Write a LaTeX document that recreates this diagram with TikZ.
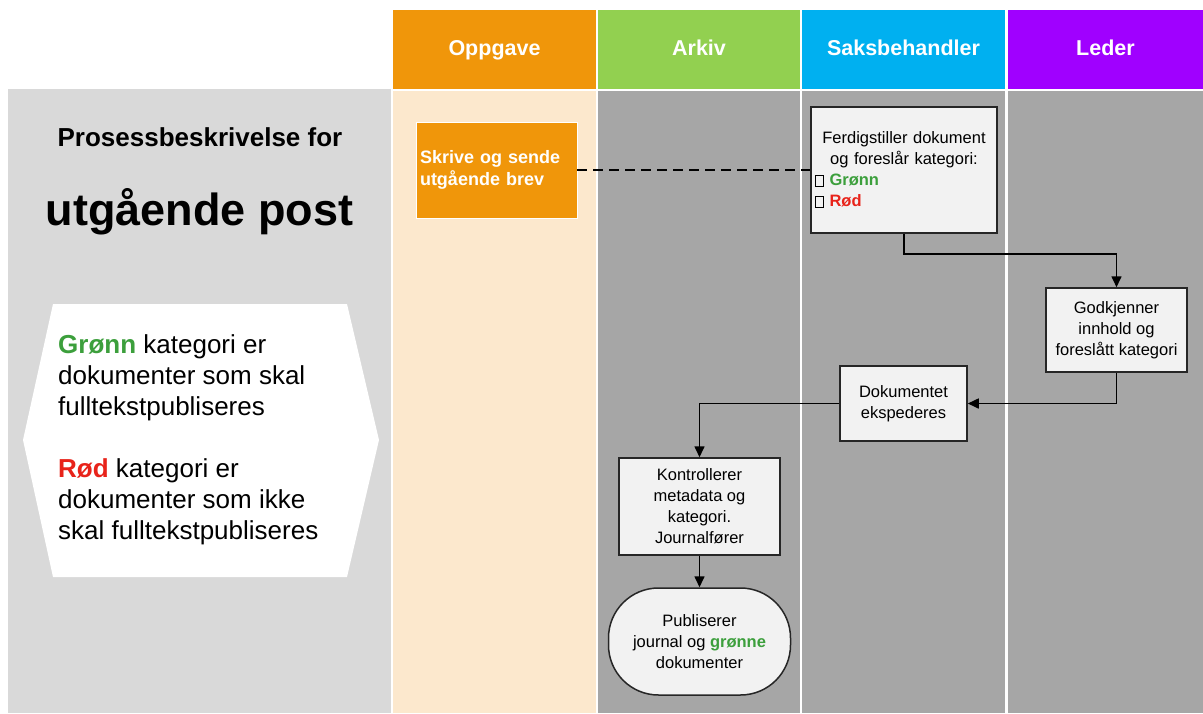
\documentclass[tikz,border=0pt]{standalone}
\usepackage{fontspec}
\setmainfont{Liberation Sans}
\usetikzlibrary{arrows.meta}

\definecolor{oppgaveFarge}{HTML}{F0960A}
\definecolor{oppgaveLys}{HTML}{FCE8CD}
\definecolor{arkivFarge}{HTML}{92D050}
\definecolor{saksFarge}{HTML}{00B0F0}
\definecolor{lederFarge}{HTML}{A000FF}
\definecolor{baneGraa}{HTML}{A6A6A6}
\definecolor{panelGraa}{HTML}{D9D9D9}
\definecolor{boksFyll}{HTML}{F2F2F2}
\definecolor{gronn}{HTML}{3C9F3C}
\definecolor{rod}{HTML}{E8231A}

% tom avkrysningsboks
\newcommand{\avkrysning}{\raisebox{-0.5pt}{\setlength{\fboxsep}{0pt}\setlength{\fboxrule}{1pt}\fbox{\rule{0pt}{10pt}\hspace{7pt}}}}

\tikzset{
	header/.style={fill=#1,
		text=white,
		font=\fontsize{21.5}{26}\selectfont\bfseries,
		text height=15.5pt,
		text depth=4.5pt,
		minimum height=79pt,
		inner sep=0pt},
	steg/.style={draw=black!85,
		line width=1.5pt,
		fill=boksFyll,
		align=center,
		font=\fontsize{16.5}{21}\selectfont,
		inner sep=0pt},
	pil/.style={line width=1.6pt, -{Triangle[length=11pt,width=10pt]}},
}

\begin{document}
\begin{tikzpicture}[x=1pt,y=-1pt]
	
	\useasboundingbox (0,0) rectangle (1203,713);
	
	% Baner
	\fill[panelGraa] (8,89) rectangle (391,713);
	\fill[oppgaveLys] (393,91) rectangle (596,713);
	\fill[baneGraa] (598,91) rectangle (800,713);
	\fill[baneGraa] (802,91) rectangle (1005,713);
	\fill[baneGraa] (1008,91) rectangle (1203,713);
	
	% Overskrifter
	\node[header=oppgaveFarge, minimum width=203pt] (hdOppgave) at (494.5,49.5) {Oppgave};
	\node[header=arkivFarge, minimum width=202pt] (hdArkiv) at (699,49.5) {Arkiv};
	\node[header=saksFarge, minimum width=203pt] (hdSaks) at (903.5,49.5) {Saksbehandler};
	\node[header=lederFarge, minimum width=195pt] (hdLeder) at (1105.5,49.5) {Leder};
	
	% Tittel
	\node[font=\fontsize{26}{30}\selectfont\bfseries] (tittel) at (200,137) {Prosessbeskrivelse for};
	\node[font=\fontsize{45}{52}\selectfont\bfseries] (tittelStor) at (199.5,212) {utgående post};
	
	% Forklaring
	\fill[white] (53,304) -- (347,304) -- (379,440) -- (347,577) -- (53,577) -- (23,440) -- cycle;
	\node[anchor=west,
	align=left,
	inner sep=0pt,
	font=\fontsize{26}{31}\selectfont] (forklaring) at (58,440)
	{\textcolor{gronn}{\textbf{Grønn}} kategori er\\
		dokumenter som skal\\
		fulltekstpubliseres\\
		\mbox{}\\
		\textcolor{rod}{\textbf{Rød}} kategori er\\
		dokumenter som ikke\\
		skal fulltekstpubliseres};
	
	% Steg
	\node[draw=white,
	line width=0.8pt,
	fill=oppgaveFarge,
	text=white,
	font=\fontsize{18}{22}\selectfont\bfseries,
	align=left,
	text width=153pt,
	inner sep=4pt,
	minimum height=96pt] (skrive) at (496.5,170) {Skrive og sende\\ utgående brev};
	
	\node[steg, minimum width=186pt, minimum height=126pt, text width=178pt] (ferdig) at (904,170)
	{Ferdigstiller dokument\\ og foreslår kategori:\\
		\makebox[178pt][l]{\avkrysning\ \textcolor{gronn}{\textbf{Grønn}}}\\
		\makebox[178pt][l]{\avkrysning\ \textcolor{rod}{\textbf{Rød}}}};
	
	\node[steg, minimum width=141pt, minimum height=84pt] (godkj) at (1116.5,330) {Godkjenner\\ innhold og\\ foreslått kategori};
	\node[steg, minimum width=127pt, minimum height=75pt] (eksped) at (903.5,403.5) {Dokumentet\\ ekspederes};
	\node[steg, minimum width=161pt, minimum height=97pt] (kontroll) at (699.5,506.5) {Kontrollerer\\ metadata og\\ kategori.\\ Journalfører};
	\node[steg, minimum width=182pt, minimum height=107pt, rounded corners=50pt] (publ) at (699.5,641.5)
	{Publiserer\\ journal og \textcolor{gronn}{\textbf{grønne}}\\ dokumenter};
	
	% Piler
	\draw[line width=1.5pt, dash pattern=on 10pt off 6pt] (skrive.east) -- (ferdig.west);
	\draw[pil] (ferdig.south) -- ++(0,20) -| (godkj.north);
	\draw[pil] (godkj.south) |- (eksped.east);
	\draw[pil] (eksped.west) -| (kontroll.north);
	\draw[pil] (kontroll.south) -- (publ.north);
	
\end{tikzpicture}
\end{document}
